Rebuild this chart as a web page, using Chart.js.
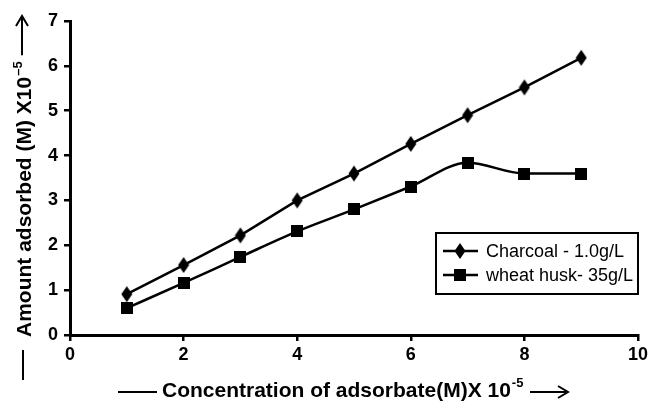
<!DOCTYPE html>
<html>
<head>
<meta charset="utf-8">
<script src="https://cdn.jsdelivr.net/npm/chart.js@4"></script>
<style>
  body { margin: 0; background: #fff; }
  #wrap { width: 651px; height: 401px; }
</style>
</head>
<body>
<div id="wrap"><canvas id="chart" width="651" height="401"></canvas></div>
<script>
var FONT = '"Liberation Sans", Arial, sans-serif';

// data
var concentration = [1, 2, 3, 4, 5, 6, 7, 8, 9];
var charcoal = [0.91, 1.56, 2.22, 3.0, 3.6, 4.26, 4.9, 5.52, 6.18];
var wheatHusk = [0.6, 1.16, 1.74, 2.31, 2.8, 3.31, 3.84, 3.6, 3.6];
var seriesNames = ['Charcoal - 1.0g/L', 'wheat husk- 35g/L'];
var xTicks = [0, 2, 4, 6, 8, 10];
var yTicks = [0, 1, 2, 3, 4, 5, 6, 7];

function makeDiamond() {
  var c = document.createElement('canvas');
  c.width = 12; c.height = 18;
  var g = c.getContext('2d');
  g.fillStyle = '#000';
  g.beginPath();
  g.moveTo(6, 1); g.lineTo(11.5, 9); g.lineTo(6, 17); g.lineTo(0.5, 9);
  g.closePath();
  g.fill();
  return c;
}

function makeSquare() {
  var c = document.createElement('canvas');
  c.width = 12; c.height = 12;
  var g = c.getContext('2d');
  g.fillStyle = '#000';
  g.fillRect(0, 0, 12, 12);
  return c;
}

var diamond = makeDiamond();
var square = makeSquare();

function points(ys) {
  return ys.map(function(y, i) { return { x: concentration[i], y: y }; });
}

// axis titles and the boxed legend are drawn by hand
var decorations = {
  id: 'decorations',
  afterDraw: function(chart) {
    var ctx = chart.ctx;
    ctx.save();
    ctx.fillStyle = '#000';
    ctx.strokeStyle = '#000';
    ctx.lineWidth = 2;

    // y title
    ctx.save();
    ctx.translate(31, 337);
    ctx.rotate(-Math.PI / 2);
    ctx.beginPath();
    ctx.moveTo(-43, -8); ctx.lineTo(-13, -8);
    ctx.stroke();
    ctx.font = 'bold 21px ' + FONT;
    ctx.textBaseline = 'alphabetic';
    var yTitle = 'Amount adsorbed (M) X10';
    ctx.fillText(yTitle, 0, 0);
    var w = ctx.measureText(yTitle).width;
    ctx.font = 'bold 13px ' + FONT;
    ctx.fillText('\u20135', w + 1, -9);
    var arrowStart = w + ctx.measureText('\u20135').width + 7;
    drawArrow(ctx, arrowStart, -9, 321);
    ctx.restore();

    // x title
    ctx.beginPath();
    ctx.moveTo(118, 392); ctx.lineTo(157, 392);
    ctx.stroke();
    ctx.font = 'bold 21px ' + FONT;
    var xTitle = 'Concentration of adsorbate(M)X 10';
    ctx.fillText(xTitle, 162, 397);
    var xw = ctx.measureText(xTitle).width;
    ctx.font = 'bold 13px ' + FONT;
    ctx.fillText('-5', 162 + xw + 1, 387);
    drawArrow(ctx, 530, 392, 568);

    // legend
    ctx.lineWidth = 2;
    ctx.strokeRect(436, 233, 202, 61);
    var imgs = [diamond, square];
    ctx.font = '18px ' + FONT;
    ctx.textBaseline = 'middle';
    for (var i = 0; i < seriesNames.length; i++) {
      var ly = 251 + i * 24;
      ctx.lineWidth = 2.5;
      ctx.beginPath();
      ctx.moveTo(443, ly); ctx.lineTo(478, ly);
      ctx.stroke();
      ctx.drawImage(imgs[i], 460 - imgs[i].width / 2, ly - imgs[i].height / 2);
      ctx.fillText(seriesNames[i], 486, ly + 1);
    }
    ctx.restore();
  }
};

function drawArrow(ctx, x0, y, x1) {
  ctx.beginPath();
  ctx.moveTo(x0, y); ctx.lineTo(x1 - 2, y);
  ctx.stroke();
  ctx.beginPath();
  ctx.moveTo(x1 - 10, y - 6); ctx.lineTo(x1, y); ctx.lineTo(x1 - 10, y + 6);
  ctx.stroke();
}

new Chart(document.getElementById('chart'), {
  type: 'line',
  data: {
    datasets: [{
      label: seriesNames[0],
      data: points(charcoal),
      borderColor: '#000',
      backgroundColor: '#000',
      borderWidth: 2.5,
      pointStyle: diamond,
      tension: 0
    }, {
      label: seriesNames[1],
      data: points(wheatHusk),
      borderColor: '#000',
      backgroundColor: '#000',
      borderWidth: 2.5,
      pointStyle: square,
      tension: 0.4,
      cubicInterpolationMode: 'monotone'
    }]
  },
  options: {
    responsive: false,
    animation: false,
    events: [],
    layout: { padding: { left: 0, right: 13, top: 21, bottom: 0 } },
    plugins: { legend: { display: false }, tooltip: { enabled: false } },
    scales: {
      x: {
        type: 'linear',
        min: 0, max: 10,
        afterFit: function(s) { s.height = 66; },
        afterBuildTicks: function(s) { s.ticks = xTicks.map(function(v) { return { value: v }; }); },
        border: { color: '#000', width: 3 },
        grid: { drawOnChartArea: false, color: '#000', tickLength: 6, lineWidth: 2.5 },
        ticks: { color: '#000', padding: 3, maxRotation: 0, font: { family: FONT, size: 18, weight: 'bold' } }
      },
      y: {
        min: 0, max: 7,
        afterFit: function(s) { s.width = 70; },
        afterBuildTicks: function(s) { s.ticks = yTicks.map(function(v) { return { value: v }; }); },
        border: { color: '#000', width: 3 },
        grid: { drawOnChartArea: false, color: '#000', tickLength: 6, lineWidth: 2.5 },
        ticks: { color: '#000', padding: 6, font: { family: FONT, size: 18, weight: 'bold' } }
      }
    }
  },
  plugins: [decorations]
});
</script>
</body>
</html>
